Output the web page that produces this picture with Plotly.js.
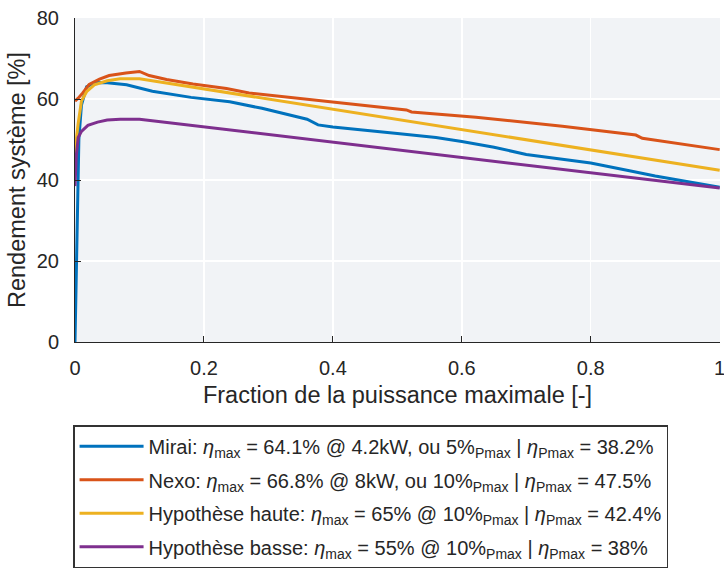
<!DOCTYPE html>
<html>
<head>
<meta charset="utf-8">
<script src="https://cdn.plot.ly/plotly-3.0.1.min.js"></script>
<style>html,body{margin:0;padding:0;background:#fff;}</style>
</head>
<body>
<div id="chart" style="width:724px;height:572px;"></div>
<script>
// Data
const miraiX = [0, 0.003, 0.006, 0.01, 0.018, 0.03, 0.05, 0.08, 0.1, 0.12, 0.18, 0.24, 0.29, 0.33, 0.36, 0.377, 0.4, 0.5, 0.56, 0.6, 0.65, 0.7, 0.8, 0.86, 0.9, 1.0];
const miraiY = [0, 30, 50, 58.5, 63.0, 64.1, 64.0, 63.5, 62.7, 61.9, 60.4, 59.3, 57.7, 56.2, 55.0, 53.6, 53.1, 51.5, 50.5, 49.5, 48.1, 46.3, 44.2, 42.3, 41.0, 38.2];

const nexoX = [0, 0.005, 0.012, 0.022, 0.038, 0.053, 0.079, 0.1, 0.115, 0.142, 0.183, 0.235, 0.27, 0.287, 0.395, 0.514, 0.522, 0.622, 0.756, 0.87, 0.88, 1.0];
const nexoY = [59.5, 60.2, 61.5, 63.6, 64.9, 65.8, 66.4, 66.8, 65.8, 64.8, 63.7, 62.6, 61.5, 61.2, 59.4, 57.3, 56.8, 55.5, 53.3, 51.1, 50.3, 47.5];

const hauteX = [0, 0.002, 0.005, 0.01, 0.018, 0.03, 0.05, 0.07, 0.1, 1.0];
const hauteY = [45, 50, 54, 59.5, 61.8, 63.5, 64.5, 65.0, 65.0, 42.4];

const basseX = [0, 0.002, 0.005, 0.01, 0.02, 0.035, 0.05, 0.07, 0.1, 1.0];
const basseY = [38.5, 46, 50.5, 52, 53.5, 54.3, 54.8, 55.0, 55.0, 38.0];

const seriesNames = [
  "Mirai: <i>η</i><sub>max</sub> = 64.1% @ 4.2kW, ou 5%<sub>Pmax</sub> | <i>η</i><sub>Pmax</sub> = 38.2%",
  "Nexo: <i>η</i><sub>max</sub> = 66.8% @ 8kW, ou 10%<sub>Pmax</sub> | <i>η</i><sub>Pmax</sub> = 47.5%",
  "Hypothèse haute: <i>η</i><sub>max</sub> = 65% @ 10%<sub>Pmax</sub> | <i>η</i><sub>Pmax</sub> = 42.4%",
  "Hypothèse basse: <i>η</i><sub>max</sub> = 55% @ 10%<sub>Pmax</sub> | <i>η</i><sub>Pmax</sub> = 38%"
];
const seriesColors = ["#0072BD", "#D95319", "#EDB120", "#7E2F8E"];

const xTicks = [0, 0.2, 0.4, 0.6, 0.8, 1];
const xTickText = ["0", "0.2", "0.4", "0.6", "0.8", "1"];
const yTicks = [0, 20, 40, 60, 80];
const yTickText = ["0", "20", "40", "60", "80"];

const xs = [miraiX, nexoX, hauteX, basseX];
const ys = [miraiY, nexoY, hauteY, basseY];

const traces = xs.map((x, i) => ({
  x: x, y: ys[i], type: 'scatter', mode: 'lines',
  name: seriesNames[i], legendgroup: 'g' + i,
  line: {color: seriesColors[i], width: 3}
}));

const fontFam = 'Liberation Sans, Arial, Helvetica, sans-serif';
const layout = {
  width: 724, height: 572,
  margin: {l: 75, r: 4, t: 18, b: 227},
  paper_bgcolor: '#ffffff',
  plot_bgcolor: '#f1f3f6',
  font: {family: fontFam, color: '#262626', size: 20},
  showlegend: true,
  xaxis: {
    range: [0, 1.0005], tickvals: xTicks, ticktext: xTickText,
    showline: true, linecolor: '#262626', linewidth: 1,
    ticks: 'inside', ticklen: 6, tickcolor: '#262626',
    showgrid: true, gridcolor: '#ffffff', gridwidth: 1.5, zeroline: false,
    tickfont: {size: 20, color: '#262626'}, ticklabelstandoff: 8,
    ticklabeloverflow: 'allow',
    title: {text: 'Fraction de la puissance maximale [-]', font: {size: 23.5, color: '#262626'}, standoff: 8}
  },
  yaxis: {
    range: [0, 80], tickvals: yTicks, ticktext: yTickText,
    showline: true, linecolor: '#262626', linewidth: 1,
    ticks: 'inside', ticklen: 6, tickcolor: '#262626',
    showgrid: true, gridcolor: '#ffffff', gridwidth: 1.5, zeroline: false,
    tickfont: {size: 20, color: '#262626'}, ticklabelstandoff: 11,
    title: {text: 'Rendement système [%]', font: {size: 23.5, color: '#262626'}, standoff: 4}
  },
  legend: {
    x: -0.003, xanchor: 'left', y: -0.257, yanchor: 'top',
    bgcolor: '#ffffff', bordercolor: '#333333', borderwidth: 1.5,
    font: {size: 20, color: '#262626', family: fontFam},
    itemwidth: 64,
    tracegroupgap: 4.5, traceorder: 'grouped'
  }
};

Plotly.newPlot('chart', traces, layout, {displayModeBar: false, staticPlot: true});
</script>
</body>
</html>
